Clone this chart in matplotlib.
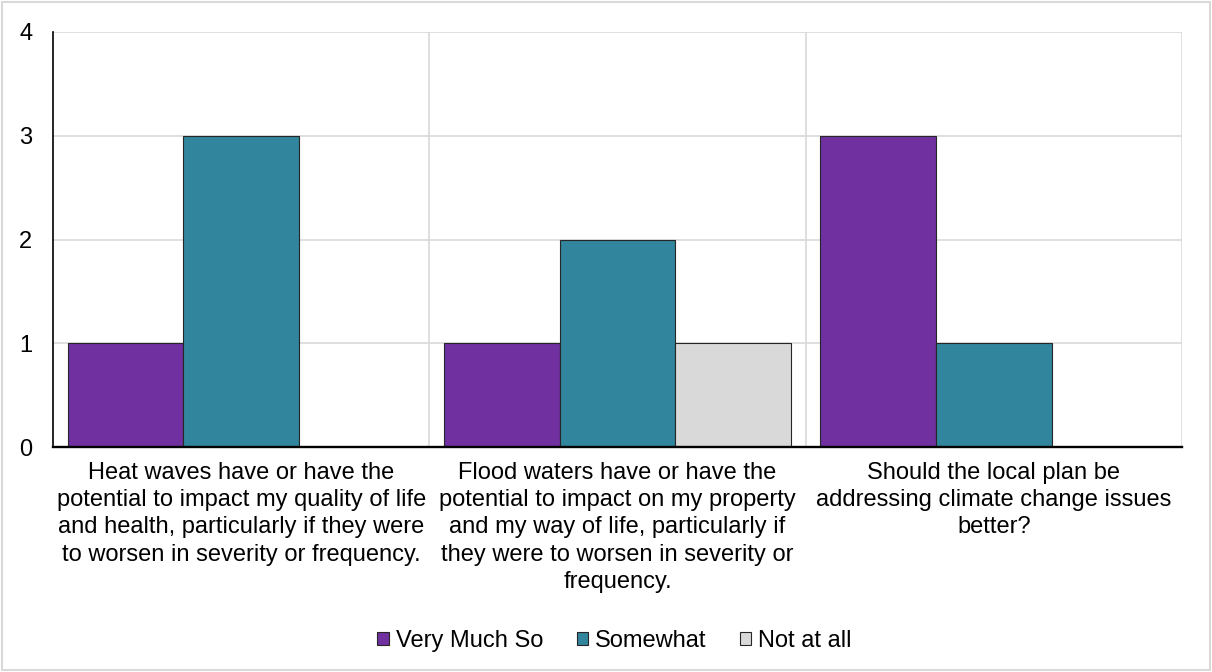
import numpy as np
import matplotlib.pyplot as plt
from matplotlib.patches import Rectangle

plt.rcParams['font.family'] = ['Liberation Sans', 'DejaVu Sans']

# Daten
kategorien = [
    "Heat waves have or have the\npotential to impact my quality of life\nand health, particularly if they were\nto worsen in severity or frequency.",
    "Flood waters have or have the\npotential to impact on my property\nand my way of life, particularly if\nthey were to worsen in severity or\nfrequency.",
    "Should the local plan be\naddressing climate change issues\nbetter?",
]
serien = ["Very Much So", "Somewhat", "Not at all"]
very_much_so = [1, 1, 3]
somewhat = [3, 2, 1]
not_at_all = [0, 1, 0]
farben = ["#7030A0", "#31859C", "#D9D9D9"]

fs = 17

fig = plt.figure(figsize=(12.12, 6.72), dpi=100)
ax = fig.add_axes([0.0437, 0.3348, 0.9315, 0.6176])

x = np.arange(len(kategorien))
w = 0.3074
werte = [very_much_so, somewhat, not_at_all]
for i, (name, vals, farbe) in enumerate(zip(serien, werte, farben)):
    ax.bar(x + (i - 1) * w, vals, width=w, color=farbe, edgecolor="#262626",
           linewidth=0.8, label=name, zorder=3)

ax.set_xlim(-0.5, 2.5)
ax.set_ylim(0, 4)
ax.set_yticks([0, 1, 2, 3, 4])
ax.set_xticks(x)
ax.set_xticklabels(kategorien, fontsize=fs, linespacing=1.3)
ax.tick_params(axis="both", length=0)
ax.tick_params(axis="y", labelsize=fs, pad=15)
ax.tick_params(axis="x", pad=11)

# Gitterlinien
for yv in [1, 2, 3, 4]:
    ax.axhline(yv, color="#D9D9D9", linewidth=1.2, zorder=1)
for xv in [0.5, 1.5, 2.5]:
    ax.axvline(xv, color="#D9D9D9", linewidth=1.2, zorder=1)

for s in ["top", "right"]:
    ax.spines[s].set_visible(False)
ax.spines["left"].set_linewidth(1.2)
ax.spines["bottom"].set_linewidth(1.7)
ax.spines["left"].set_zorder(4)
ax.spines["bottom"].set_zorder(4)

fig.legend(loc="center", bbox_to_anchor=(0.507, 0.046), ncol=3, frameon=False,
           fontsize=fs, handlelength=0.47, handleheight=0.47, handletextpad=0.3,
           columnspacing=1.42)

fig.patches.append(Rectangle((0.002, 0.003), 0.996, 0.994, transform=fig.transFigure,
                             fill=False, edgecolor="#D9D9D9", linewidth=1.5))

fig.savefig("out.png", dpi=100)
